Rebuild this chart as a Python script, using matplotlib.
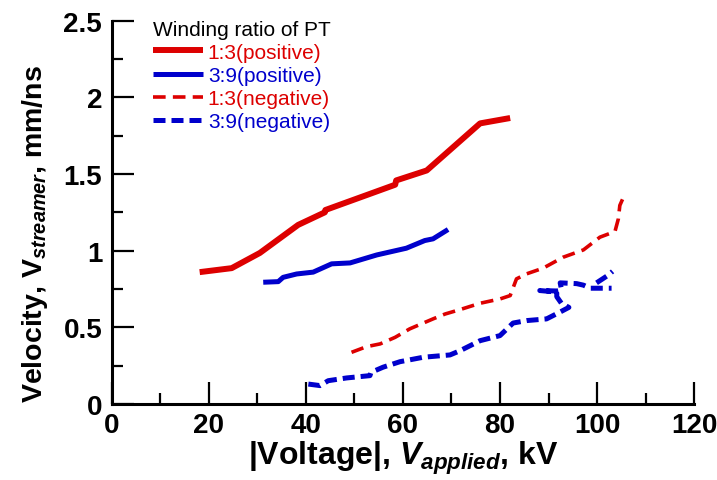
import numpy as np
import matplotlib
matplotlib.use("Agg")
import matplotlib.pyplot as plt
from matplotlib.ticker import MultipleLocator

# 1:3 winding ratio, positive polarity
pos13_v = [18.1, 24.7, 30.5, 38.4, 43.9, 44.0, 58.4, 58.6, 64.9, 75.9, 82.1]
pos13_s = [0.86, 0.886, 0.985, 1.168, 1.25, 1.265, 1.43, 1.458, 1.523, 1.83, 1.865]

# 3:9 winding ratio, positive polarity
pos39_v = [31.2, 34.3, 35.3, 38.1, 41.5, 45.3, 49.1, 54.6, 60.7, 64.5, 66.2, 69.3]
pos39_s = [0.794, 0.798, 0.826, 0.848, 0.86, 0.914, 0.92, 0.972, 1.016, 1.066,
           1.077, 1.138]

# 1:3 winding ratio, negative polarity
neg13_v = [49.4, 52.5, 55.3, 58.4, 61.4, 64.2, 66.2, 68.7, 71.8, 75.9, 80.0,
           82.1, 83.4, 85.5, 88.9, 93.0, 97.2, 100.6, 103.7, 104.4, 104.7, 105.3]
neg13_s = [0.337, 0.374, 0.392, 0.435, 0.49, 0.528, 0.555, 0.587, 0.616, 0.657,
           0.685, 0.707, 0.816, 0.849, 0.886, 0.957, 1.005, 1.088, 1.125, 1.208,
           1.295, 1.338]

# 3:9 winding ratio, negative polarity
neg39_v = [40.5, 42.9, 44.6, 48.4, 53.2, 53.4, 55.9, 59.4, 64.2, 69.7, 71.8,
           75.9, 80.0, 82.7, 85.5, 89.6, 92.4, 94.2, 92.7, 91.7, 91.7, 88.2,
           91.7, 92.7, 92.4, 95.8, 97.2, 98.6, 103.0, np.nan, 99.9, 102.3, 103.2]
neg39_s = [0.13, 0.12, 0.152, 0.17, 0.185, 0.206, 0.24, 0.276, 0.305, 0.32,
           0.348, 0.413, 0.446, 0.528, 0.544, 0.555, 0.60, 0.63, 0.655, 0.70,
           0.73, 0.74, 0.737, 0.745, 0.79, 0.785, 0.775, 0.755, 0.755, np.nan,
           0.79, 0.84, 0.865]

RED = "#DD0000"
BLUE = "#0000CC"

plt.rcParams["font.family"] = ["Liberation Sans", "DejaVu Sans"]
plt.rcParams["mathtext.fontset"] = "custom"
plt.rcParams["mathtext.rm"] = "Liberation Sans:bold"
plt.rcParams["mathtext.it"] = "Liberation Sans:bold:italic"
plt.rcParams["mathtext.bf"] = "Liberation Sans:bold"


def main():
    fig = plt.figure(figsize=(7.17, 4.81), dpi=100)
    ax = fig.add_axes([0.156, 0.158, 0.812, 0.797])

    ax.plot(pos13_v, pos13_s, color=RED, lw=4.3, solid_capstyle="butt",
            label="1:3(positive)")
    ax.plot(pos39_v, pos39_s, color=BLUE, lw=3.6, solid_capstyle="butt",
            label="3:9(positive)")
    ax.plot(neg13_v, neg13_s, color=RED, lw=2.6, ls=(0, (3.5, 2.0)),
            label="1:3(negative)")
    ax.plot(neg39_v, neg39_s, color=BLUE, lw=3.6, ls=(0, (2.4, 1.2)),
            label="3:9(negative)")

    ax.set_xlim(0, 120)
    ax.set_ylim(0, 2.5)
    ax.xaxis.set_major_locator(MultipleLocator(20))
    ax.xaxis.set_minor_locator(MultipleLocator(10))
    ax.yaxis.set_major_locator(MultipleLocator(0.5))
    ax.yaxis.set_minor_locator(MultipleLocator(0.25))
    ax.set_yticks([0, 0.5, 1, 1.5, 2, 2.5], ["0", "0.5", "1", "1.5", "2", "2.5"])

    for side in ("top", "right"):
        ax.spines[side].set_visible(False)
    for side in ("left", "bottom"):
        ax.spines[side].set_linewidth(2.2)

    ax.tick_params(which="major", direction="in", length=16, width=1.6,
                   labelsize=20)
    ax.tick_params(axis="y", which="major", pad=7)
    ax.tick_params(axis="x", which="major", pad=6)
    ax.tick_params(which="minor", direction="in", length=8, width=1.6)
    for lab in ax.get_xticklabels() + ax.get_yticklabels():
        lab.set_fontweight("bold")

    ax.set_xlabel(r"|Voltage|, $V_{applied}$, kV", fontsize=23,
                  fontweight="bold", labelpad=0)
    ax.set_ylabel(r"Velocity, V$_{streamer}$, mm/ns", fontsize=20.5,
                  fontweight="bold")
    ax.yaxis.set_label_coords(-0.107, 0.445)

    leg = ax.legend(loc="upper left", bbox_to_anchor=(0.052, 1.03),
                    frameon=False, title="Winding ratio of PT",
                    fontsize=15, title_fontsize=15, handlelength=2.4,
                    handletextpad=0.25, labelspacing=0.2, borderpad=0,
                    alignment="left")
    for txt, col in zip(leg.get_texts(), [RED, BLUE, RED, BLUE]):
        txt.set_color(col)

    fig.savefig("out.png", dpi=100)


if __name__ == "__main__":
    main()
